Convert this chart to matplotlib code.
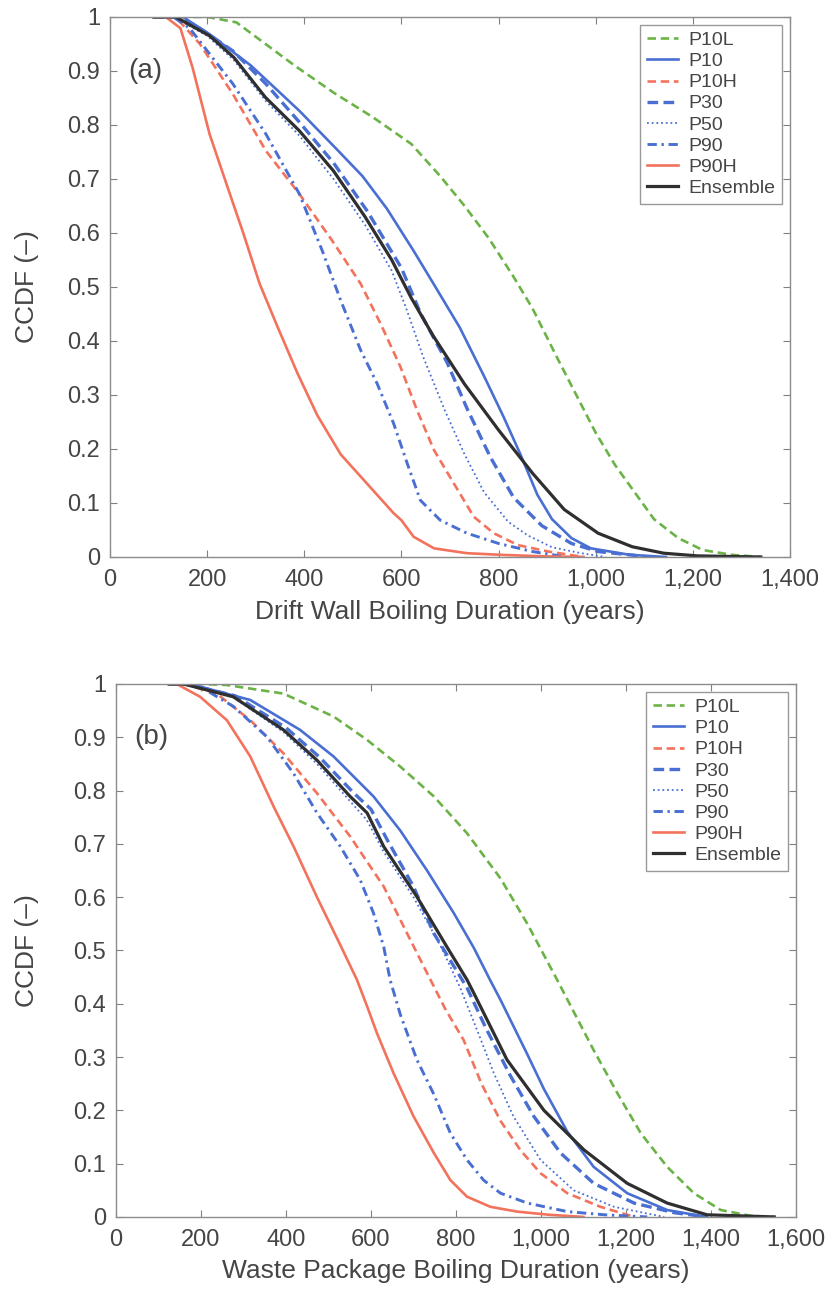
import matplotlib.pyplot as plt

plt.rcParams['font.family'] = ['Liberation Sans', 'DejaVu Sans']

labels = ['P10L', 'P10', 'P10H', 'P30', 'P50', 'P90', 'P90H', 'Ensemble']

# ---- panel (a): drift wall boiling duration (years) vs CCDF
a_p10l_x = [90, 200, 260, 320, 380, 460, 540, 620, 680, 730, 780, 830, 870, 920, 960, 1000, 1040, 1080, 1120, 1170, 1220, 1280, 1340]
a_p10l_y = [1.0, 1.0, 0.99, 0.95, 0.91, 0.86, 0.815, 0.765, 0.705, 0.65, 0.59, 0.52, 0.46, 0.37, 0.30, 0.23, 0.17, 0.12, 0.07, 0.035, 0.013, 0.004, 0.0]
a_p10_x = [90, 150, 205, 290, 390, 470, 520, 570, 625, 670, 720, 770, 810, 845, 880, 910, 950, 990, 1070, 1145]
a_p10_y = [1.0, 1.0, 0.968, 0.91, 0.826, 0.752, 0.705, 0.645, 0.567, 0.50, 0.425, 0.335, 0.26, 0.19, 0.115, 0.07, 0.035, 0.016, 0.004, 0.0]
a_p10h_x = [90, 135, 185, 253, 321, 390, 458, 516, 557, 598, 632, 667, 708, 749, 790, 840, 903, 975]
a_p10h_y = [1.0, 1.0, 0.95, 0.857, 0.752, 0.672, 0.585, 0.506, 0.432, 0.352, 0.272, 0.198, 0.136, 0.0745, 0.044, 0.022, 0.01, 0.0]
a_p30_x = [90, 140, 185, 253, 321, 390, 460, 530, 600, 640, 694, 735, 783, 831, 889, 950, 1005, 1070, 1110]
a_p30_y = [1.0, 1.0, 0.979, 0.937, 0.876, 0.805, 0.73, 0.64, 0.535, 0.45, 0.36, 0.275, 0.185, 0.11, 0.058, 0.025, 0.01, 0.004, 0.0]
a_p50_x = [90, 130, 200, 255, 320, 390, 460, 525, 580, 610, 645, 690, 730, 770, 820, 860, 910, 970, 1020]
a_p50_y = [1.0, 1.0, 0.965, 0.92, 0.845, 0.78, 0.70, 0.615, 0.53, 0.46, 0.37, 0.27, 0.19, 0.12, 0.065, 0.04, 0.018, 0.007, 0.0]
a_p90_x = [90, 130, 164, 253, 321, 390, 437, 475, 516, 550, 584, 612, 639, 680, 735, 800, 870, 940]
a_p90_y = [1.0, 1.0, 0.979, 0.876, 0.783, 0.672, 0.567, 0.475, 0.383, 0.321, 0.247, 0.173, 0.105, 0.068, 0.044, 0.025, 0.01, 0.0]
a_p90h_x = [90, 115, 145, 170, 205, 240, 275, 308, 345, 386, 427, 475, 530, 584, 600, 625, 667, 735, 804, 900, 975]
a_p90h_y = [1.0, 1.0, 0.979, 0.906, 0.783, 0.69, 0.598, 0.506, 0.426, 0.34, 0.262, 0.19, 0.135, 0.081, 0.068, 0.0375, 0.016, 0.007, 0.004, 0.001, 0.0]
a_ens_x = [90, 135, 205, 255, 320, 390, 460, 525, 580, 620, 665, 730, 800, 870, 935, 1005, 1075, 1140, 1210, 1340]
a_ens_y = [1.0, 1.0, 0.965, 0.925, 0.851, 0.789, 0.715, 0.63, 0.55, 0.48, 0.41, 0.32, 0.235, 0.155, 0.088, 0.044, 0.019, 0.007, 0.002, 0.0]

# ---- panel (b): waste package boiling duration (years) vs CCDF
b_p10l_x = [125, 200, 261, 394, 512, 591, 669, 748, 826, 905, 968, 1038, 1124, 1180, 1235, 1297, 1360, 1423, 1494, 1550]
b_p10l_y = [1.0, 1.0, 0.998, 0.982, 0.939, 0.895, 0.845, 0.789, 0.72, 0.635, 0.55, 0.445, 0.313, 0.232, 0.157, 0.094, 0.0445, 0.013, 0.002, 0.0]
b_p10_x = [125, 170, 198, 316, 433, 512, 606, 669, 732, 795, 842, 880, 905, 968, 1007, 1062, 1124, 1203, 1297, 1390]
b_p10_y = [1.0, 1.0, 0.995, 0.97, 0.914, 0.864, 0.789, 0.725, 0.65, 0.57, 0.505, 0.445, 0.407, 0.305, 0.24, 0.16, 0.094, 0.0445, 0.013, 0.0]
b_p10h_x = [125, 159, 237, 316, 394, 473, 551, 630, 685, 740, 775, 818, 860, 905, 952, 999, 1062, 1140, 1220]
b_p10h_y = [1.0, 1.0, 0.982, 0.932, 0.87, 0.795, 0.714, 0.62, 0.532, 0.445, 0.39, 0.332, 0.25, 0.18, 0.125, 0.082, 0.0445, 0.019, 0.0]
b_p30_x = [125, 165, 280, 400, 480, 560, 600, 640, 700, 748, 826, 870, 928, 983, 1046, 1124, 1219, 1313, 1391]
b_p30_y = [1.0, 1.0, 0.978, 0.918, 0.862, 0.795, 0.765, 0.705, 0.62, 0.532, 0.43, 0.355, 0.265, 0.189, 0.12, 0.063, 0.026, 0.008, 0.0]
b_p50_x = [125, 160, 276, 394, 473, 551, 590, 630, 700, 763, 810, 850, 889, 935, 999, 1077, 1172, 1290]
b_p50_y = [1.0, 1.0, 0.975, 0.91, 0.85, 0.78, 0.745, 0.685, 0.60, 0.51, 0.43, 0.35, 0.27, 0.189, 0.107, 0.05, 0.019, 0.0]
b_p90_x = [125, 150, 198, 276, 355, 418, 473, 528, 575, 606, 630, 645, 669, 708, 748, 787, 826, 865, 905, 968, 1062, 1150, 1250]
b_p90_y = [1.0, 1.0, 0.995, 0.958, 0.901, 0.832, 0.758, 0.695, 0.632, 0.57, 0.507, 0.445, 0.38, 0.295, 0.23, 0.157, 0.107, 0.069, 0.0445, 0.026, 0.01, 0.004, 0.0]
b_p90h_x = [125, 143, 198, 261, 316, 371, 418, 473, 528, 567, 591, 614, 653, 700, 748, 787, 826, 881, 944, 1020, 1100]
b_p90h_y = [1.0, 1.0, 0.976, 0.932, 0.864, 0.77, 0.695, 0.60, 0.51, 0.445, 0.395, 0.345, 0.27, 0.189, 0.12, 0.069, 0.038, 0.019, 0.01, 0.004, 0.0]
b_ens_x = [125, 159, 276, 394, 473, 551, 591, 630, 708, 780, 826, 842, 920, 1007, 1101, 1203, 1297, 1391, 1549]
b_ens_y = [1.0, 1.0, 0.976, 0.914, 0.857, 0.789, 0.758, 0.695, 0.601, 0.505, 0.445, 0.42, 0.295, 0.2, 0.126, 0.063, 0.026, 0.004, 0.0]

a_xticks = [0, 200, 400, 600, 800, 1000, 1200, 1400]
a_xticklabels = ['0', '200', '400', '600', '800', '1,000', '1,200', '1,400']
b_xticks = [0, 200, 400, 600, 800, 1000, 1200, 1400, 1600]
b_xticklabels = ['0', '200', '400', '600', '800', '1,000', '1,200', '1,400', '1,600']
yticks = [0, 0.1, 0.2, 0.3, 0.4, 0.5, 0.6, 0.7, 0.8, 0.9, 1]
yticklabels = ['0', '0.1', '0.2', '0.3', '0.4', '0.5', '0.6', '0.7', '0.8', '0.9', '1']

green = '#6cb347'
blue = '#4a6fd2'
red = '#f3725c'
black = '#2f2f2f'
styles = [
    dict(color=green, ls=(0, (3.2, 1.8)), lw=1.9),
    dict(color=blue, ls='-', lw=1.9),
    dict(color=red, ls=(0, (3.2, 1.8)), lw=1.9),
    dict(color=blue, ls=(0, (3.2, 1.6)), lw=2.4),
    dict(color=blue, ls=(0, (1, 1.6)), lw=1.3),
    dict(color=blue, ls=(0, (3.2, 1.6, 0.8, 1.6)), lw=2.1),
    dict(color=red, ls='-', lw=1.9),
    dict(color=black, ls='-', lw=2.3),
]

fig = plt.figure(figsize=(8.26, 12.92), dpi=100)


def panel(rect, data, xmax, xticks, xticklabels, xlabel, tag, tagx, ylab_x):
    ax = fig.add_axes(rect)
    for (xs, ys), lab, st in zip(data, labels, styles):
        ax.plot(xs, ys, label=lab, **st)
    ax.set_xlim(0, xmax)
    ax.set_ylim(0, 1)
    ax.set_xticks(xticks)
    ax.set_xticklabels(xticklabels)
    ax.set_yticks(yticks)
    ax.set_yticklabels(yticklabels)
    ax.tick_params(direction='in', top=True, right=True, length=5, width=0.8,
                   color='#808080', labelcolor='#454545', labelsize=17)
    ax.tick_params(axis='x', pad=9)
    ax.tick_params(axis='y', pad=7)
    for s in ax.spines.values():
        s.set_color('#8c8c8c')
        s.set_linewidth(1.0)
    ax.set_xlabel(xlabel, fontsize=19, color='#454545')
    ax.set_ylabel('CCDF (\u2013)', fontsize=19, color='#454545')
    ax.xaxis.set_label_coords(0.5, -0.102)
    ax.xaxis.label.set_va('center')
    ax.yaxis.set_label_coords(ylab_x, 0.5)
    ax.yaxis.label.set_va('center')
    ax.text(tagx, 0.9, tag, fontsize=20, color='#454545', va='center')
    leg = ax.legend(loc='upper right', fontsize=14, handlelength=1.6,
                    handletextpad=0.55, labelspacing=0.18, borderpad=0.35,
                    borderaxespad=0.4, fancybox=False, framealpha=1)
    leg.get_frame().set_edgecolor('#999999')
    leg.get_frame().set_linewidth(1.0)
    for t in leg.get_texts():
        t.set_color('#454545')
    return ax


a_data = [(a_p10l_x, a_p10l_y), (a_p10_x, a_p10_y), (a_p10h_x, a_p10h_y), (a_p30_x, a_p30_y),
          (a_p50_x, a_p50_y), (a_p90_x, a_p90_y), (a_p90h_x, a_p90h_y), (a_ens_x, a_ens_y)]
b_data = [(b_p10l_x, b_p10l_y), (b_p10_x, b_p10_y), (b_p10h_x, b_p10h_y), (b_p30_x, b_p30_y),
          (b_p50_x, b_p50_y), (b_p90_x, b_p90_y), (b_p90h_x, b_p90h_y), (b_ens_x, b_ens_y)]

panel([0.1332, 0.5689, 0.8232, 0.4180], a_data, 1400, a_xticks, a_xticklabels,
      'Drift Wall Boiling Duration (years)', '(a)', 38, -0.122)
panel([0.1404, 0.0581, 0.8232, 0.4125], b_data, 1600, b_xticks, b_xticklabels,
      'Waste Package Boiling Duration (years)', '(b)', 43, -0.131)

fig.savefig('out.png', dpi=100)
